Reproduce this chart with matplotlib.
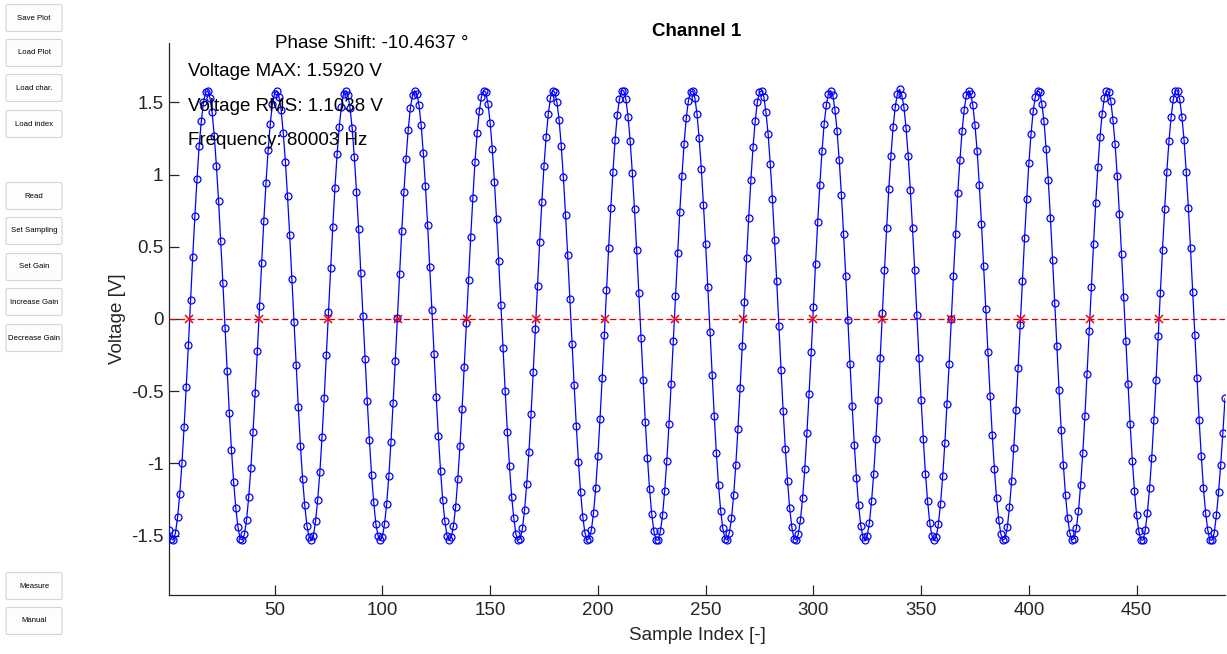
import matplotlib
matplotlib.use("Agg")
import matplotlib.pyplot as plt
from matplotlib.patches import FancyBboxPatch
import numpy as np

# ---------------- data ----------------
voltage = [
    -1.46, -1.52, -1.53, -1.48, -1.37, -1.21, -1.00, -0.75, -0.47, -0.18, 0.13, 0.43, 0.71, 0.97, 1.20, 1.37,
    1.50, 1.57, 1.58, 1.53, 1.43, 1.27, 1.06, 0.82, 0.54, 0.25, -0.06, -0.36, -0.65, -0.91, -1.13, -1.31,
    -1.44, -1.52, -1.53, -1.49, -1.39, -1.23, -1.03, -0.78, -0.51, -0.22, 0.09, 0.39, 0.68, 0.94, 1.17, 1.35,
    1.49, 1.56, 1.58, 1.54, 1.45, 1.29, 1.09, 0.85, 0.58, 0.28, -0.02, -0.32, -0.61, -0.88, -1.11, -1.29,
    -1.43, -1.51, -1.53, -1.50, -1.40, -1.25, -1.06, -0.82, -0.55, -0.25, 0.05, 0.35, 0.64, 0.91, 1.14, 1.33,
    1.47, 1.56, 1.58, 1.55, 1.46, 1.32, 1.12, 0.88, 0.62, 0.32, 0.02, -0.28, -0.57, -0.84, -1.08, -1.27,
    -1.42, -1.50, -1.53, -1.51, -1.42, -1.28, -1.09, -0.85, -0.58, -0.29, 0.01, 0.31, 0.61, 0.88, 1.11, 1.31,
    1.46, 1.55, 1.58, 1.56, 1.48, 1.34, 1.15, 0.92, 0.65, 0.36, 0.06, -0.24, -0.54, -0.81, -1.05, -1.25,
    -1.40, -1.50, -1.53, -1.51, -1.43, -1.30, -1.11, -0.88, -0.62, -0.33, -0.03, 0.27, 0.57, 0.84, 1.09, 1.29,
    1.44, 1.54, 1.58, 1.57, 1.49, 1.36, 1.18, 0.95, 0.69, 0.40, 0.10, -0.20, -0.50, -0.78, -1.02, -1.23,
    -1.38, -1.49, -1.53, -1.52, -1.45, -1.32, -1.14, -0.92, -0.66, -0.37, -0.07, 0.23, 0.53, 0.81, 1.06, 1.26,
    1.42, 1.53, 1.58, 1.57, 1.50, 1.38, 1.20, 0.98, 0.72, 0.44, 0.14, -0.17, -0.46, -0.74, -0.99, -1.20,
    -1.37, -1.48, -1.53, -1.52, -1.46, -1.34, -1.17, -0.95, -0.69, -0.41, -0.11, 0.20, 0.49, 0.77, 1.02, 1.24,
    1.41, 1.52, 1.58, 1.58, 1.52, 1.40, 1.23, 1.01, 0.76, 0.48, 0.18, -0.13, -0.42, -0.71, -0.96, -1.18,
    -1.35, -1.47, -1.53, -1.53, -1.47, -1.36, -1.19, -0.98, -0.73, -0.45, -0.15, 0.16, 0.46, 0.74, 0.99, 1.21,
    1.39, 1.51, 1.57, 1.58, 1.53, 1.42, 1.25, 1.04, 0.79, 0.52, 0.22, -0.09, -0.39, -0.67, -0.93, -1.15,
    -1.33, -1.45, -1.52, -1.53, -1.48, -1.38, -1.22, -1.01, -0.76, -0.48, -0.19, 0.12, 0.42, 0.70, 0.96, 1.19,
    1.37, 1.50, 1.57, 1.58, 1.54, 1.43, 1.28, 1.07, 0.83, 0.55, 0.26, -0.05, -0.35, -0.64, -0.90, -1.12,
    -1.31, -1.44, -1.52, -1.53, -1.49, -1.39, -1.24, -1.04, -0.79, -0.52, -0.23, 0.08, 0.38, 0.67, 0.93, 1.16,
    1.35, 1.48, 1.56, 1.58, 1.55, 1.45, 1.30, 1.10, 0.86, 0.59, 0.30, -0.01, -0.31, -0.60, -0.87, -1.10,
    -1.29, -1.43, -1.51, -1.53, -1.50, -1.41, -1.26, -1.07, -0.83, -0.56, -0.27, 0.04, 0.34, 0.63, 0.90, 1.13,
    1.33, 1.47, 1.56, 1.59, 1.55, 1.47, 1.32, 1.13, 0.89, 0.63, 0.34, 0.03, -0.27, -0.56, -0.83, -1.07,
    -1.26, -1.41, -1.50, -1.53, -1.51, -1.42, -1.28, -1.09, -0.86, -0.59, -0.31, 0.00, 0.30, 0.59, 0.87, 1.10,
    1.30, 1.45, 1.55, 1.58, 1.56, 1.48, 1.34, 1.16, 0.93, 0.66, 0.37, 0.07, -0.23, -0.53, -0.80, -1.04,
    -1.24, -1.39, -1.49, -1.53, -1.52, -1.44, -1.30, -1.12, -0.89, -0.63, -0.34, -0.04, 0.26, 0.56, 0.83, 1.08,
    1.28, 1.44, 1.54, 1.58, 1.57, 1.49, 1.37, 1.18, 0.96, 0.70, 0.41, 0.11, -0.19, -0.49, -0.77, -1.01,
    -1.22, -1.38, -1.48, -1.53, -1.52, -1.45, -1.33, -1.15, -0.93, -0.67, -0.38, -0.08, 0.22, 0.52, 0.80, 1.05,
    1.26, 1.42, 1.53, 1.58, 1.57, 1.51, 1.38, 1.21, 0.99, 0.73, 0.45, 0.15, -0.15, -0.45, -0.73, -0.98,
    -1.19, -1.36, -1.47, -1.53, -1.53, -1.46, -1.34, -1.17, -0.96, -0.70, -0.42, -0.12, 0.18, 0.48, 0.76, 1.02,
    1.23, 1.40, 1.52, 1.58, 1.58, 1.52, 1.40, 1.24, 1.02, 0.77, 0.49, 0.19, -0.11, -0.41, -0.70, -0.95,
    -1.17, -1.34, -1.46, -1.53, -1.53, -1.48, -1.36, -1.20, -1.01, -0.79, -0.55,
]
sample_index = list(range(1, len(voltage) + 1))

# rising zero crossings (interpolated sample positions)
zero_cross_x = [10.5, 42.7, 74.8, 107.1, 139.2, 171.2, 203.5, 235.7,
                267.4, 299.9, 331.9, 364.0, 396.3, 428.4, 460.4]
zero_cross_y = [0.0] * len(zero_cross_x)

x_ticks = [50, 100, 150, 200, 250, 300, 350, 400, 450]
y_ticks = [-1.5, -1.0, -0.5, 0.0, 0.5, 1.0, 1.5]
y_tick_labels = ["-1.5", "-1", "-0.5", "0", "0.5", "1", "1.5"]

v_max = 1.5920
info_lines = ["Voltage MAX: 1.5920 V", "Voltage RMS: 1.1038 V", "Frequency: 80003 Hz"]
phase_text = "Phase Shift: -10.4637 \u00b0"
buttons_top = ["Save Plot", "Load Plot", "Load char.", "Load index"]
buttons_mid = ["Read", "Set Sampling", "Set Gain", "Increase Gain", "Decrease Gain"]
buttons_bot = ["Measure", "Manual"]

# ---------------- figure ----------------
plt.rcParams['font.family'] = ['Liberation Sans', 'DejaVu Sans']
W, H = 1227, 654
fig = plt.figure(figsize=(W / 100, H / 100), dpi=100)
fig.patch.set_facecolor('white')

def fx(px):
    return px / W

def fy(py):
    return 1 - py / H

ax_left, ax_right, ax_top, ax_bottom = 169, 1225, 43, 595
ax = fig.add_axes([fx(ax_left), fy(ax_bottom), (ax_right - ax_left) / W, (ax_bottom - ax_top) / H])

axis_col = '#262626'
fs = 13.5

ax.plot(sample_index, voltage, color=(0, 0, 1), lw=0.9, marker='o', ms=5,
        mfc='none', mec=(0, 0, 1), mew=0.9, zorder=3)
ax.axhline(0, color=(0.9, 0, 0), lw=0.9, ls=(0, (5, 2.5)), zorder=2)
ax.plot(zero_cross_x, zero_cross_y, ls='none', marker='x', ms=5.5, mew=1.1,
        color=(1, 0, 0), zorder=4)

ax.set_xlim(1, len(voltage))
ax.set_ylim(-1.2 * v_max, 1.2 * v_max)
ax.set_xticks(x_ticks)
ax.set_yticks(y_ticks)
ax.set_yticklabels(y_tick_labels)
ax.tick_params(direction='in', length=7, width=0.9, colors=axis_col, labelsize=fs)
ax.tick_params(axis='x', pad=5)
ax.tick_params(axis='y', pad=4)
for s in ['top', 'right']:
    ax.spines[s].set_visible(False)
for s in ['left', 'bottom']:
    ax.spines[s].set_color(axis_col)
    ax.spines[s].set_linewidth(0.9)

fig.text(fx(697), fy(32), "Channel 1", ha='center', va='center',
         fontsize=fs, fontweight='bold', color='black')
fig.text(fx(697), fy(636), "Sample Index [-]", ha='center', va='center',
         fontsize=fs, color=axis_col)
fig.text(fx(118), fy(319), "Voltage [V]", ha='center', va='center',
         rotation=90, fontsize=fs, color=axis_col)

fig.text(fx(275), fy(44), phase_text, ha='left', va='center', fontsize=fs, color='black')
for i, line in enumerate(info_lines):
    fig.text(fx(188), fy(72 + i * 34.3), line, ha='left', va='center',
             fontsize=fs, color='black', zorder=10)

# ---------------- buttons ----------------
def button(label, cy):
    bx, bw, bh = 6, 56, 27
    p = FancyBboxPatch((fx(bx), fy(cy + bh / 2)), bw / W, bh / H,
                       boxstyle="round,pad=0,rounding_size=0.002",
                       transform=fig.transFigure, facecolor='#fdfdfd',
                       edgecolor='#d4d4d4', lw=0.8)
    fig.patches.append(p)
    fig.text(fx(bx + bw / 2), fy(cy), label, ha='center', va='center',
             fontsize=5.6, color='black')

for lab, cy in zip(buttons_top, [18, 53, 88, 124]):
    button(lab, cy)
for lab, cy in zip(buttons_mid, [196, 231, 267, 302, 338]):
    button(lab, cy)
for lab, cy in zip(buttons_bot, [586, 621]):
    button(lab, cy)

fig.savefig("out.png", dpi=100, facecolor='white')
